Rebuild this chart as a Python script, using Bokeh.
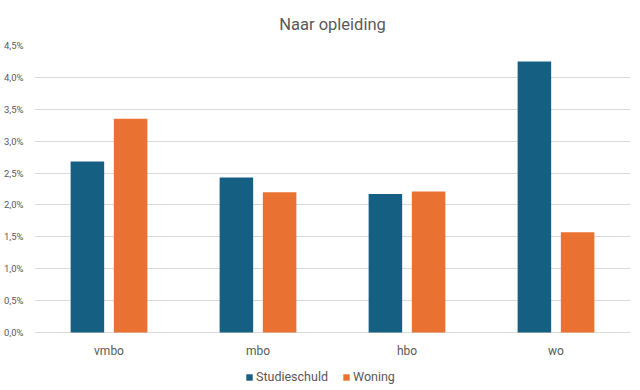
from bokeh.plotting import figure
from bokeh.models import FactorRange, FixedTicker, Legend, LegendItem, CustomJSTickFormatter
from bokeh.transform import dodge
from bokeh.models import ColumnDataSource
from bokeh.embed import file_html
from bokeh.resources import INLINE

categories = ["vmbo", "mbo", "hbo", "wo"]
studieschuld = [2.68, 2.43, 2.17, 4.25]
woning = [3.35, 2.20, 2.21, 1.57]
y_ticks = [0.0, 0.5, 1.0, 1.5, 2.0, 2.5, 3.0, 3.5, 4.0, 4.5]
y_tick_labels = ["0,0%", "0,5%", "1,0%", "1,5%", "2,0%", "2,5%", "3,0%", "3,5%", "4,0%", "4,5%"]

FONT = "Roboto"
TXT = "#595959"

PX_PER_UNIT = 287 / 4.5
LABEL_Y = -18 / PX_PER_UNIT
Y_START = -53 / PX_PER_UNIT

src = ColumnDataSource(dict(cat=categories, s=studieschuld, w=woning,
                            ly=[LABEL_Y] * len(categories)))

p = figure(x_range=FactorRange(*categories), y_range=(Y_START, 4.5),
           frame_width=596, frame_height=340, output_backend="svg", toolbar_location=None,
           min_border_left=2, min_border_right=2, min_border_top=0, min_border_bottom=0)
p.x_range.range_padding = 0

r1 = p.vbar(x=dodge("cat", -0.145, range=p.x_range), top="s", bottom=0, width=0.225, source=src,
            fill_color="#156082", line_color=None)
r2 = p.vbar(x=dodge("cat", 0.145, range=p.x_range), top="w", bottom=0, width=0.225, source=src,
            fill_color="#E97132", line_color=None)

# category labels (x axis labels)
p.text(x="cat", y="ly", text="cat", source=src, text_align="center", text_baseline="middle",
       text_font_size="12px", text_color=TXT, text_font={"value": FONT})

p.title.text = "Naar opleiding"
p.title.align = "center"
p.title.text_font = FONT
p.title.text_font_size = "16.5px"
p.title.text_font_style = "normal"
p.title.text_color = TXT
p.title.standoff = 24

p.outline_line_color = None
p.xgrid.grid_line_color = None
p.ygrid.grid_line_color = "#D9D9D9"
p.ygrid.grid_line_width = 1
p.ygrid.ticker = FixedTicker(ticks=y_ticks)

p.yaxis.ticker = FixedTicker(ticks=y_ticks)
p.yaxis.formatter = CustomJSTickFormatter(args=dict(tv=y_ticks, tl=y_tick_labels), code="""
    for (let i = 0; i < tv.length; i++) {
        if (Math.abs(tv[i] - tick) < 1e-9) { return tl[i]; }
    }
    return "";
""")
p.yaxis.axis_line_color = None
p.yaxis.major_tick_line_color = None
p.yaxis.minor_tick_line_color = None
p.yaxis.major_label_text_font = FONT
p.yaxis.major_label_text_font_size = "9.5px"
p.yaxis.major_label_text_color = TXT
p.yaxis.major_label_standoff = 5

p.xaxis.visible = False

legend = Legend(items=[LegendItem(label="Studieschuld", renderers=[r1]),
                       LegendItem(label="Woning", renderers=[r2])],
                orientation="horizontal", location=(211, 1))
legend.label_text_font = FONT
legend.label_text_font_size = "12.5px"
legend.label_text_color = TXT
legend.glyph_width = 8
legend.glyph_height = 8
legend.label_height = 14
legend.label_standoff = 3
legend.spacing = 14
legend.border_line_color = None
legend.background_fill_alpha = 0
legend.padding = 0
legend.margin = 0
p.add_layout(legend, "center")

open("out.html", "w").write(file_html(p, INLINE))
